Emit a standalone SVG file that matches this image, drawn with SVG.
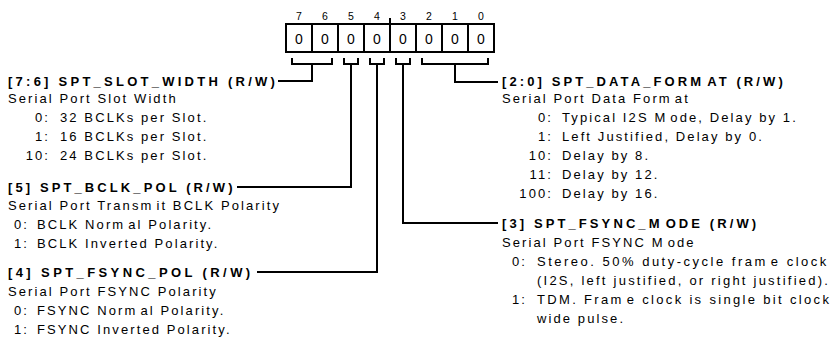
<svg xmlns="http://www.w3.org/2000/svg" width="832" height="341" viewBox="0 0 832 341">
<style>
text{font-family:"Liberation Sans",Arial,sans-serif;fill:#000}
.h{font-size:13px;font-weight:bold;letter-spacing:3.1px}
.t{font-size:13px;letter-spacing:2.1px}
.e{text-anchor:end}
.bit{font-size:10.5px;text-anchor:middle}
.cell{font-size:14px;text-anchor:middle}
.ln{fill:none;stroke:#000;stroke-width:2}
</style>
<rect width="832" height="341" fill="#fff"/>
<g id="register">
<rect class="ln" x="286" y="24" width="208" height="28"/>
<path class="ln" d="M312 24V52M338 24V52M364 24V52M390 24V52M416 24V52M442 24V52M468 24V52M390 18V24"/>
<text class="bit" x="299" y="20">7</text><text class="bit" x="325" y="20">6</text><text class="bit" x="351" y="20">5</text><text class="bit" x="377" y="20">4</text><text class="bit" x="403" y="20">3</text><text class="bit" x="429" y="20">2</text><text class="bit" x="455" y="20">1</text><text class="bit" x="481" y="20">0</text>
<text class="cell" x="299" y="44">0</text><text class="cell" x="325" y="44">0</text><text class="cell" x="351" y="44">0</text><text class="cell" x="377" y="44">0</text><text class="cell" x="403" y="44">0</text><text class="cell" x="429" y="44">0</text><text class="cell" x="455" y="44">0</text><text class="cell" x="481" y="44">0</text>
</g>
<g id="connectors">
<path class="ln" d="M292 58V64H332V58M312 64V81H278"/>
<path class="ln" d="M344 58V64H358V58M351 64V187H237"/>
<path class="ln" d="M370 58V64H384V58M377 64V272H257"/>
<path class="ln" d="M396 58V64H410V58M403 64V223H498"/>
<path class="ln" d="M422 58V64H488V58M455 64V82H498"/>
</g>
<g id="slot_width">
<text class="h" x="8" y="86" style="letter-spacing:3.25px">[7:6] SPT_SLOT_WIDTH (R/W)</text>
<text class="t" x="8" y="103">Serial Port Slot Width</text>
<text class="t e" x="50" y="122">0:</text><text class="t" x="60" y="122">32 BCLKs per Slot.</text>
<text class="t e" x="50" y="141">1:</text><text class="t" x="60" y="141">16 BCLKs per Slot.</text>
<text class="t e" x="50" y="160">10:</text><text class="t" x="60" y="160">24 BCLKs per Slot.</text>
</g>
<g id="bclk_pol">
<text class="h" x="8" y="192">[5] SPT_BCLK_POL (R/W)</text>
<text class="t" x="8" y="210">Serial Port Transm<tspan dx="3">it BCLK Polarity</tspan></text>
<text class="t e" x="29" y="229">0:</text><text class="t" x="37" y="229">BCLK Norm<tspan dx="3">al Polarity.</tspan></text>
<text class="t e" x="29" y="248">1:</text><text class="t" x="37" y="248">BCLK Inverted Polarity.</text>
</g>
<g id="fsync_pol">
<text class="h" x="8" y="277" style="letter-spacing:3.4px">[4] SPT_FSYNC_POL (R/W)</text>
<text class="t" x="8" y="296">Serial Port FSYNC Polarity</text>
<text class="t e" x="29" y="315">0:</text><text class="t" x="37" y="315">FSYNC Norm<tspan dx="3">al Polarity.</tspan></text>
<text class="t e" x="29" y="334">1:</text><text class="t" x="37" y="334">FSYNC Inverted Polarity.</text>
</g>
<g id="data_format">
<text class="h" x="502" y="86">[2:0] SPT_DATA_FORM<tspan dx="3">AT (R/W)</tspan></text>
<text class="t" x="502" y="103">Serial Port Data Form<tspan dx="3">at</tspan></text>
<text class="t e" x="553" y="122">0:</text><text class="t" x="562" y="122">Typical I2S M<tspan dx="3">ode, Delay by 1.</tspan></text>
<text class="t e" x="553" y="141">1:</text><text class="t" x="562" y="141">Left Justified, Delay by 0.</text>
<text class="t e" x="553" y="160">10:</text><text class="t" x="562" y="160">Delay by 8.</text>
<text class="t e" x="553" y="179">11:</text><text class="t" x="562" y="179">Delay by 12.</text>
<text class="t e" x="553" y="198">100:</text><text class="t" x="562" y="198">Delay by 16.</text>
</g>
<g id="fsync_mode">
<text class="h" x="502" y="228">[3] SPT_FSYNC_M<tspan dx="3">ODE (R/W)</tspan></text>
<text class="t" x="502" y="247">Serial Port FSYNC M<tspan dx="3">ode</tspan></text>
<text class="t e" x="527" y="266">0:</text><text class="t" x="537" y="266" style="letter-spacing:2.5px">Stereo. 50% duty-cycle fram<tspan dx="3">e clock</tspan></text>
<text class="t" x="537" y="285" style="letter-spacing:2.23px">(I2S, left justified, or right justified).</text>
<text class="t e" x="527" y="304">1:</text><text class="t" x="537" y="304" style="letter-spacing:2.33px">TDM. Fram<tspan dx="3">e clock is single bit clock</tspan></text>
<text class="t" x="537" y="323">wide pulse.</text>
</g>
</svg>
